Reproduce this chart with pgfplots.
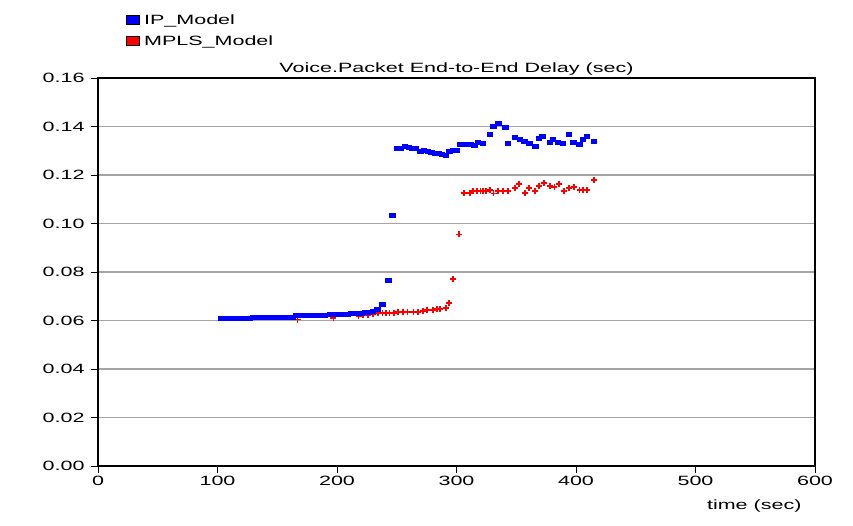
\documentclass[border=0pt]{standalone}
\usepackage{pgfplots}
\pgfplotsset{compat=1.18}
\usepackage{fontspec}
\setmainfont{Liberation Sans}[FakeStretch=1.6]
\definecolor{gridgray}{RGB}{165,165,165}
\begin{document}
\begin{tikzpicture}
\path[use as bounding box] (-98bp,-60bp) rectangle (755bp,466bp);
\begin{axis}[
  scale only axis,
  width=717bp, height=388bp,
  xmin=0, xmax=600, ymin=0, ymax=0.16,
  xtick={0,100,...,600},
  ytick={0,0.02,...,0.16},
  yticklabel style={xshift=-3bp, /pgf/number format/.cd, fixed, fixed zerofill, precision=2},
  /pgf/number format/assume math mode=true,
  ticklabel style={font=\fontsize{13.5}{15}\selectfont},
  tick align=outside,
  major tick length=7bp,
  tick style={black, line width=0.9bp},
  axis line style={black, line width=1.2bp},
  ymajorgrids,
  major grid style={gridgray, line width=1.4bp},
  xtick pos=bottom, ytick pos=left,
  title={Voice.Packet End-to-End Delay (sec)},
  title style={font=\fontsize{13.5}{15}\selectfont, yshift=-7bp},
  xlabel={time (sec)},
  xlabel style={font=\fontsize{13.5}{15}\selectfont, at={(axis description cs:1,0)}, anchor=north east, xshift=-10bp, yshift=-30bp},
  legend style={at={(0.035,1.175)}, anchor=north west, draw=none, fill=none,
    font=\fontsize{13.5}{15}\selectfont, row sep=6bp,
    /tikz/every odd column/.append style={column sep=2bp}},
  legend cell align=left,
  clip=false,
]
\addlegendimage{legend image code/.code={\draw[fill=blue,draw=black,line width=0.8bp] (0bp,-4bp) rectangle (13bp,5bp);}}
\addlegendentry{IP\_Model}
\addlegendimage{legend image code/.code={\draw[fill=red,draw=black,line width=0.8bp] (0bp,-4bp) rectangle (13bp,5bp);}}
\addlegendentry{MPLS\_Model}

% MPLS_Model (points hidden under IP_Model before t=215 are not shown in the reference)
\addplot[forget plot, only marks, mark=+, mark size=3bp, draw=red, mark options={draw=red, line width=1.8bp}] coordinates {
(167,0.0604)(197,0.0611)
(218,0.0620)(222,0.0623)(226,0.0623)(230,0.0626)(234,0.0632)(238,0.0632)(241,0.0632)(244,0.0632)(248,0.0632)(251,0.0634)
(255,0.0636)(259,0.0636)(264,0.0636)(268,0.0636)(272,0.0639)(275,0.0643)(280,0.0643)(284,0.0646)(286,0.0646)(291,0.0653)(294,0.0673)
(297,0.0772)(302,0.0955)
(306,0.1127)(311,0.1127)(314,0.1134)(317,0.1134)(320,0.1134)(322.5,0.1134)(325,0.1134)(328,0.1138)(331,0.1124)(335,0.1134)(339,0.1134)(343,0.1134)
(349,0.1145)(352,0.1162)(357,0.1127)(361,0.1145)(366,0.1134)(369,0.1155)(373,0.1168)(378,0.1156)(382,0.1149)(386,0.1162)(390,0.1134)(394,0.1145)(398,0.1149)(403,0.1138)(406,0.1138)(409.5,0.1138)(415,0.1179)
};

% IP_Model
\addplot[forget plot, only marks, mark=square*, mark size=2bp, blue, mark options={draw=blue, fill=blue, xscale=1.35, line width=0pt}] coordinates {
(103,0.0608)(106,0.0608)(109,0.0608)(112,0.0608)(115,0.0608)(118,0.0608)(121,0.0608)(124,0.0608)(127,0.0608)
(130,0.0614)(133,0.0614)(136,0.0614)(139,0.0614)(142,0.0614)(145,0.0614)(148,0.0614)(151,0.0614)(154,0.0614)(157,0.0614)(160,0.0614)(163,0.0614)
(166,0.0619)(169,0.0619)(172,0.0619)(175,0.0619)(178,0.0619)(181,0.0619)(184,0.0619)(187,0.0619)(190,0.0619)
(194,0.0623)(197,0.0623)(200,0.0623)(203,0.0623)(206,0.0623)(209,0.0623)
(212,0.0627)(215,0.0628)(218,0.0630)(221,0.0630)(224,0.0631)(227,0.0634)(230,0.0637)(234,0.0646)(238,0.0668)(243,0.0767)(246.5,0.1033)
(250,0.1311)(253,0.1311)(257,0.1318)(260,0.1313)(263,0.1311)(266,0.1311)(270,0.1297)(273,0.1299)(276,0.1297)(279,0.1293)(282,0.1290)(285,0.1287)(288,0.1286)(291,0.1281)(294,0.1298)(297,0.1300)(300,0.1300)
(303,0.1327)(306,0.1327)(309,0.1327)(312,0.1327)(315,0.1322)(318,0.1333)(322,0.1331)
(328,0.1365)(331,0.1402)(335,0.1413)(341,0.1395)(343,0.1331)(349,0.1355)(353,0.1347)(357,0.1337)(361,0.1331)(366,0.1317)(369,0.1351)(372,0.1358)
(378,0.1333)(381,0.1347)(385,0.1333)(389,0.1328)(394,0.1368)(398,0.1333)(403,0.1324)(406,0.1347)(409,0.1360)(415,0.1337)
};
\end{axis}
\end{tikzpicture}
\end{document}
